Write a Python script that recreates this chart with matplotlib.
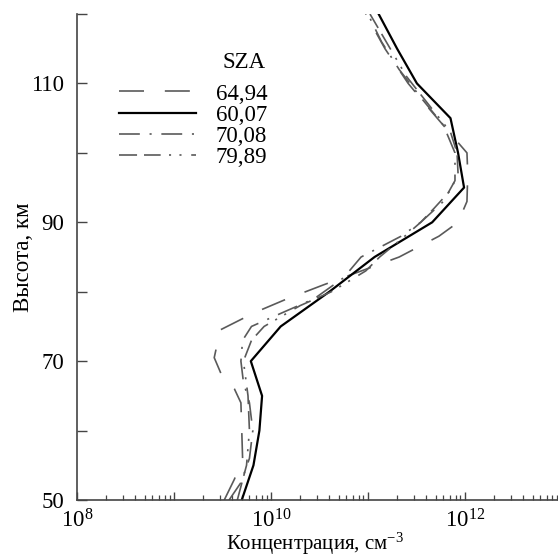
import matplotlib
matplotlib.use("Agg")
import matplotlib.pyplot as plt
from matplotlib.ticker import FixedLocator, LogLocator, FuncFormatter, NullFormatter, NullLocator
import math

plt.rcParams['font.family'] = ['Liberation Serif', 'DejaVu Serif']
plt.rcParams['mathtext.fontset'] = 'custom'
plt.rcParams['mathtext.rm'] = 'Liberation Serif'
plt.rcParams['mathtext.it'] = 'Liberation Serif:italic'
plt.rcParams['lines.scale_dashes'] = False

# SZA 60,07 (solid)
alt_6007 = [50, 55, 60, 65, 70, 75, 80, 85, 90, 95, 100, 105, 110, 115, 120]
conc_6007 = [5.0e9, 6.6e9, 7.6e9, 8.1e9, 6.2e9, 1.26e10, 4.0e10, 1.17e11,
             4.6e11, 9.8e11, 8.5e11, 7.1e11, 3.2e11, 2.0e11, 1.29e11]

# SZA 64,94 (long dash)
alt_6494 = [50, 53, 56, 60, 64, 66, 68, 70.5, 74.5, 77, 79, 81, 85, 88, 90,
            93, 97, 100, 102, 106, 110, 115, 120]
conc_6494 = [3.3e9, 4.2e9, 5.1e9, 5.0e9, 4.9e9, 4.2e9, 3.1e9, 2.6e9, 3.0e9,
             6.8e9, 1.48e10, 3.5e10, 2.1e11, 5.4e11, 8.5e11, 1.05e12, 1.07e12,
             1.05e12, 7.9e11, 4.5e11, 2.6e11, 1.5e11, 9.5e10]

# SZA 70,08 (dash-dot)
alt_7008 = [50, 52.5, 56, 60, 64, 67, 70, 73, 75, 77, 79, 82, 85, 88, 90,
            93, 96, 100, 104, 108, 112, 116, 120]
conc_7008 = [3.7e9, 4.9e9, 6.0e9, 6.5e9, 6.0e9, 5.2e9, 4.9e9, 5.1e9, 6.3e9,
             1.32e10, 2.8e10, 5.6e10, 8.5e10, 2.2e11, 3.5e11, 6.0e11, 7.9e11,
             7.9e11, 6.0e11, 3.5e11, 2.1e11, 1.38e11, 1.0e11]

# SZA 79,89 (dash-dash-dot-dot)
alt_7989 = [50, 55, 60, 65, 70, 73, 75, 78, 80, 83, 85, 88, 90, 92, 94.6,
            97, 100, 103, 107, 111, 115, 120]
conc_7989 = [4.5e9, 5.6e9, 6.0e9, 5.8e9, 5.2e9, 6.3e9, 8.5e9, 2.0e10, 4.2e10,
             9.5e10, 1.32e11, 2.4e11, 3.5e11, 4.8e11, 7.1e11, 8.5e11, 8.3e11,
             7.1e11, 4.2e11, 2.5e11, 1.7e11, 1.05e11]

sza_labels = ["64,94", "60,07", "70,08", "79,89"]
x_labels_exp = [8, 10, 12]

gray = '#5a5a5a'

fig = plt.figure(figsize=(5.58, 5.56), dpi=100)
ax = fig.add_axes([0.138, 0.1007, 0.862, 0.8741])

l1, = ax.plot(conc_6494, alt_6494, color=gray, lw=1.2, dashes=(18, 15))
l2, = ax.plot(conc_6007, alt_6007, color='black', lw=1.6)
l3, = ax.plot(conc_7008, alt_7008, color=gray, lw=1.2, dashes=(15, 7, 1.5, 7))
l4, = ax.plot(conc_7989, alt_7989, color=gray, lw=1.2,
              dashes=(13, 5, 12, 6, 1.5, 6, 1.5, 7))

ax.set_xscale('log')
ax.set_xlim(1e8, 10 ** 12.96)
ax.set_ylim(50, 120)

ax.xaxis.set_major_locator(FixedLocator([10.0 ** e for e in range(8, 14)]))
def fmt(v, pos):
    e = int(round(math.log10(v)))
    if e in x_labels_exp:
        return r'$10^{%d}$' % e
    return ''
ax.xaxis.set_major_formatter(FuncFormatter(fmt))
ax.xaxis.set_minor_locator(LogLocator(base=10, subs=range(2, 10), numticks=20))
ax.xaxis.set_minor_formatter(NullFormatter())

ax.set_yticks([50, 60, 70, 80, 90, 100, 110, 120])
ax.set_yticklabels(['50', '', '70', '', '90', '', '110', ''])
ax.yaxis.set_minor_locator(NullLocator())

ax.tick_params(axis='x', which='major', direction='in', length=6, width=1.0,
               color='#444444', labelsize=16.5, pad=7)
ax.tick_params(axis='x', which='minor', direction='in', length=3.5, width=0.9,
               color='#444444')
ax.tick_params(axis='y', which='major', direction='in', length=7, width=1.0,
               color='#444444', labelsize=16.5, pad=9)

for s in ['top', 'right']:
    ax.spines[s].set_visible(False)
for s in ['left', 'bottom']:
    ax.spines[s].set_linewidth(1.2)
    ax.spines[s].set_color('#444444')

ax.set_xlabel('Концентрация, см$^{-3}$', fontsize=15)
ax.xaxis.set_label_coords(0.495, -0.064)
ax.set_ylabel('Высота, км', fontsize=16.5)
ax.yaxis.set_label_coords(-0.09, 0.5)

leg = ax.legend([l1, l2, l3, l4], sza_labels, loc='upper left',
                bbox_to_anchor=(108 / 558, 1 - 72 / 556), bbox_transform=fig.transFigure,
                frameon=False, fontsize=16.5, handlelength=3.35, handletextpad=0.85,
                labelspacing=0.0, borderpad=0)
ax.text(266 / 558, 1 - 62 / 556, 'SZA', transform=fig.transFigure,
        fontsize=16.5, ha='right', va='center')

fig.savefig('out.png', dpi=100)
